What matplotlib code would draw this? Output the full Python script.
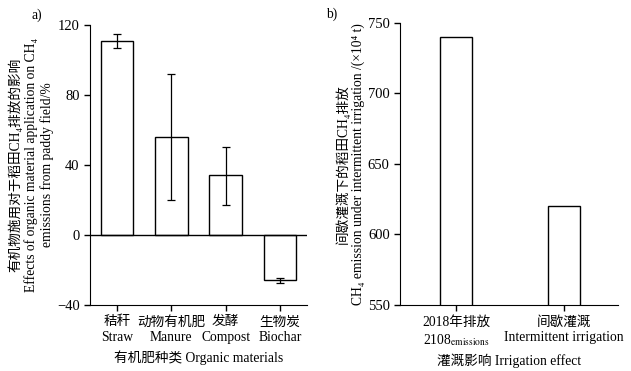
import matplotlib
matplotlib.use('Agg')
import matplotlib.pyplot as plt

plt.rcParams['font.family'] = ['Liberation Serif', 'Noto Sans CJK SC', 'DejaVu Sans']
plt.rcParams['mathtext.fontset'] = 'stix'
plt.rcParams['font.size'] = 9.8

# panel a data
cats_a = ['秸秆\nStraw', '动物有机肥\nManure', '发酵\nCompost', '生物炭\nBiochar']
vals_a = [111, 56, 34, -26]
err_lo_a = [4, 36, 17, 1.5]
err_hi_a = [4, 36, 16, 1.5]

# panel b data
cats_b = ['2018年排放\n2108$_{\\rm emissions}$', '间歇灌溉\nIntermittent irrigation']
vals_b = [740, 620]

fig = plt.figure(figsize=(6.31, 3.71), dpi=100)

ax1 = fig.add_axes([0.1426, 0.178, 0.344, 0.755])
x = range(len(cats_a))
ax1.bar(x, vals_a, width=0.6, color='white', edgecolor='black', linewidth=1)
ax1.errorbar(x, vals_a, yerr=[err_lo_a, err_hi_a], fmt='none', ecolor='black',
             elinewidth=0.9, capsize=3, capthick=0.9)
ax1.axhline(0, color='black', lw=1)
ax1.set_xlim(-0.5, 3.5)
ax1.set_ylim(-40, 120)
ax1.set_yticks([-40, 0, 40, 80, 120])
ax1.set_xticks(list(x))
ax1.set_xticklabels(cats_a, linespacing=1.3)
ax1.set_xlabel('有机肥种类 Organic materials', labelpad=4)
ax1.set_ylabel('有机物施用对于稻田CH₄排放的影响\nEffects of organic material application on CH₄\nemissions from paddy field/%',
               linespacing=1.2, labelpad=2)
for s in ['top', 'right']:
    ax1.spines[s].set_visible(False)
ax1.tick_params(direction='out', length=4, width=1)
ax1.tick_params(axis='y', labelsize=10.5)
ax1.text(-0.27, 1.02, 'a)', transform=ax1.transAxes)

ax2 = fig.add_axes([0.634, 0.178, 0.345, 0.76])
xb = range(len(cats_b))
ax2.bar(xb, vals_b, width=0.3, color='white', edgecolor='black', linewidth=1)
ax2.set_xlim(-0.52, 1.5)
ax2.set_ylim(550, 750)
ax2.set_yticks([550, 600, 650, 700, 750])
ax2.set_xticks(list(xb))
ax2.set_xticklabels(cats_b, linespacing=1.3)
ax2.set_xlabel('灌溉影响 Irrigation effect', labelpad=4)
ax2.set_ylabel('间歇灌溉下的稻田CH₄排放\nCH₄ emission under intermittent irrigation /(×10⁴ t)',
               linespacing=1.2, labelpad=2)
for s in ['top', 'right']:
    ax2.spines[s].set_visible(False)
ax2.tick_params(direction='out', length=4, width=1)
ax2.tick_params(axis='y', labelsize=10.5)
ax2.text(-0.34, 1.02, 'b)', transform=ax2.transAxes)

fig.savefig('out.png', dpi=100)
